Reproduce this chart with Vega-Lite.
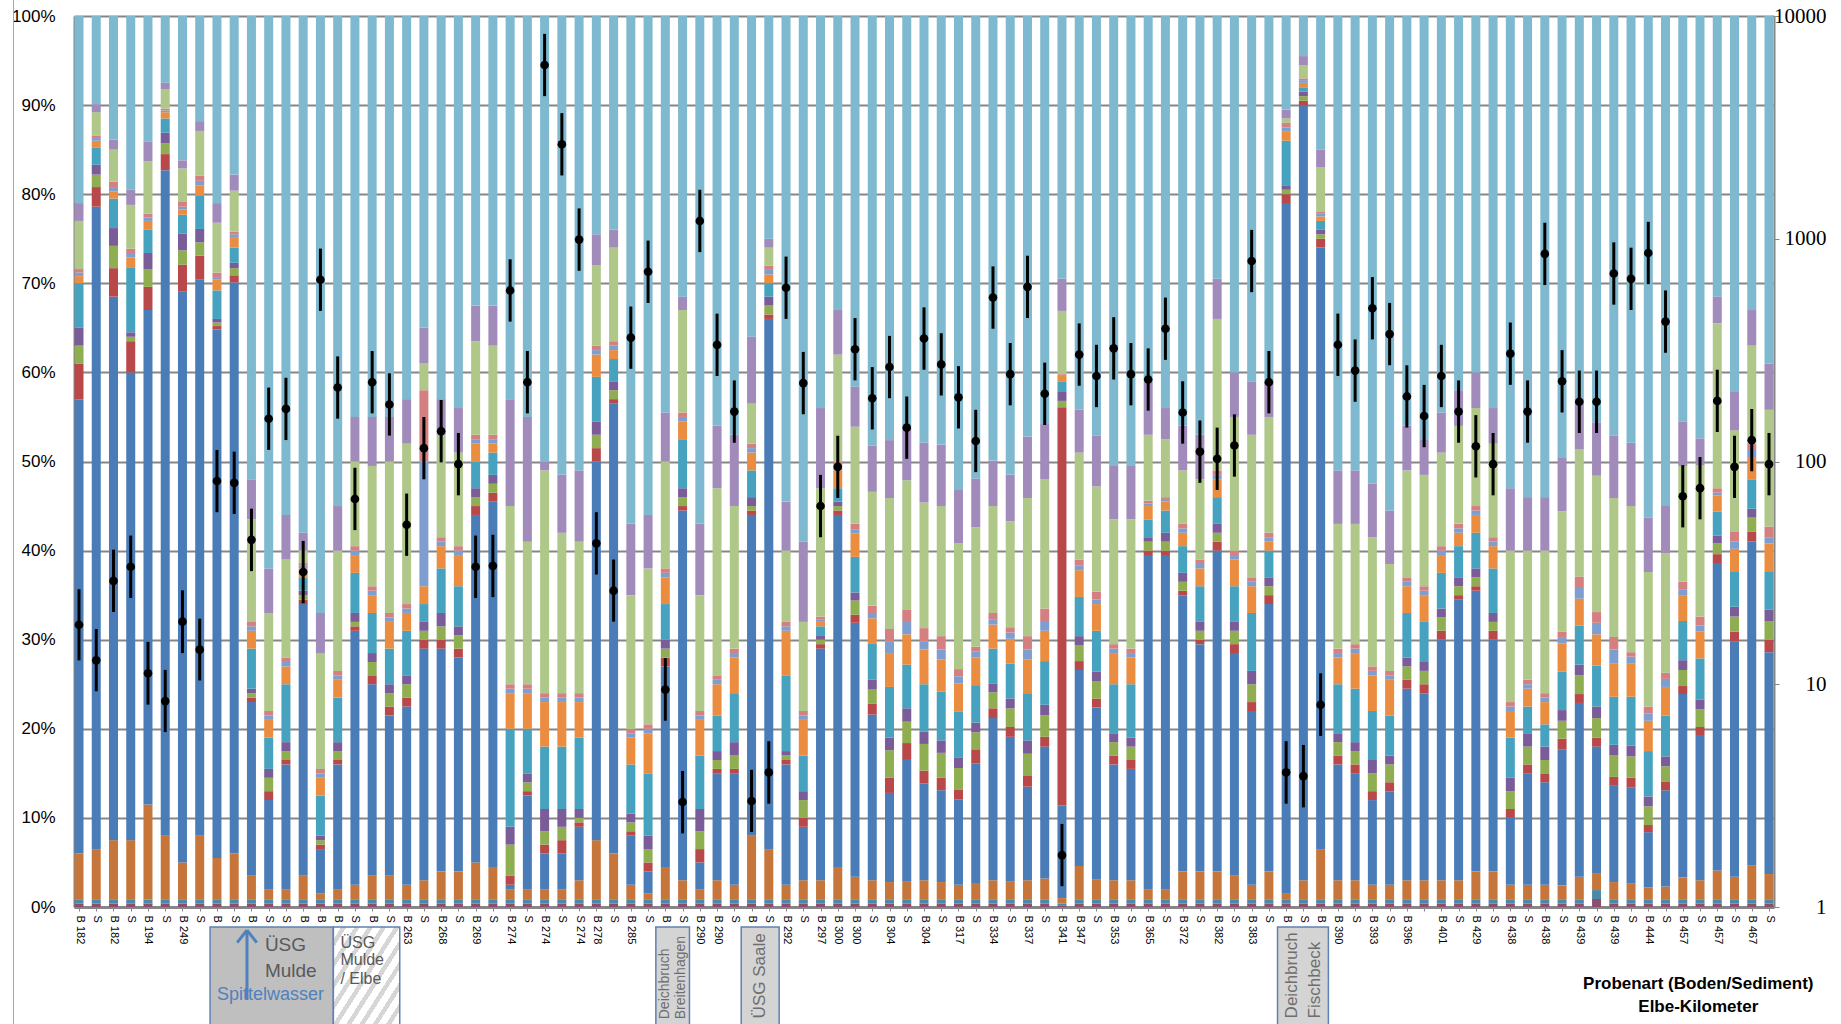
{
"$schema": "https://vega.github.io/schema/vega-lite/v6.json",
"width": 1700, "height": 891,
"autosize": {"type": "none"},
"padding": {"left": 74, "top": 16, "right": 67, "bottom": 117},
"config": {"view": {"stroke": null}, "font": "Liberation Sans", "axis": {"labelOverlap": false, "labelFlush": false, "labelBound": false}},
"datasets": {"bars": [
{"i":1,"s01":0.4,"s02":0.4,"s03":5.2,"s04":51,"s05":4,"s06":2,"s07":2,"s08":5,"s09":0.8,"s10":0.4,"s11":0.4,"s12":5.4,"s13":2,"s14":21,"v":18.5,"lo":12.8,"hi":26.7},
{"i":2,"s01":0.4,"s02":0.4,"s03":5.7,"s04":72.1,"s05":2.2,"s06":1.4,"s07":1.1,"s08":1.9,"s09":0.8,"s10":0.3,"s11":0.3,"s12":2.6,"s13":0.9,"s14":9.9,"v":12.8,"lo":9.3,"hi":17.7},
{"i":3,"s01":0.4,"s02":0.4,"s03":6.7,"s04":61,"s05":3.2,"s06":2.5,"s07":2,"s08":3.3,"s09":0.8,"s10":0.5,"s11":0.6,"s12":3.6,"s13":1.1,"s14":13.9,"v":29.1,"lo":21.1,"hi":40.2},
{"i":4,"s01":0.4,"s02":0.4,"s03":6.7,"s04":52.5,"s05":3.5,"s06":0.5,"s07":0.5,"s08":7.3,"s09":1.1,"s10":0.5,"s11":0.5,"s12":4.9,"s13":1.7,"s14":19.5,"v":33.7,"lo":24.4,"hi":46.5},
{"i":5,"s01":0.4,"s02":0.4,"s03":10.7,"s04":55.5,"s05":2.6,"s06":2,"s07":1.8,"s08":2.6,"s09":1,"s10":0.4,"s11":0.4,"s12":5.9,"s13":2.2,"s14":14.1,"v":11.2,"lo":8.1,"hi":15.5},
{"i":6,"s01":0.4,"s02":0.4,"s03":7.2,"s04":74.7,"s05":1.8,"s06":1.2,"s07":1.2,"s08":1.6,"s09":0.7,"s10":0.2,"s11":0.2,"s12":2.2,"s13":0.7,"s14":7.5,"v":8.4,"lo":6.1,"hi":11.6},
{"i":7,"s01":0.4,"s02":0.4,"s03":4.2,"s04":64.1,"s05":3,"s06":1.6,"s07":1.9,"s08":2.1,"s09":0.6,"s10":0.3,"s11":0.6,"s12":3.7,"s13":0.9,"s14":16.2,"v":19.1,"lo":13.8,"hi":26.4},
{"i":8,"s01":0.4,"s02":0.4,"s03":7.2,"s04":62.4,"s05":2.7,"s06":1.5,"s07":1.5,"s08":3.7,"s09":1.2,"s10":0.5,"s11":0.6,"s12":5,"s13":1.1,"s14":11.8,"v":14.3,"lo":10.4,"hi":19.7},
{"i":9,"s01":0.4,"s02":0.4,"s03":4.7,"s04":59.3,"s05":0.4,"s06":0.4,"s07":0.4,"s08":3.2,"s09":1.2,"s10":0.3,"s11":0.5,"s12":5.6,"s13":2.2,"s14":21,"v":81.7,"lo":59.2,"hi":112.7},
{"i":10,"s01":0.4,"s02":0.4,"s03":5.2,"s04":64.1,"s05":0.8,"s06":0.8,"s07":0.6,"s08":1.7,"s09":1.1,"s10":0.4,"s11":0.3,"s12":4.6,"s13":1.8,"s14":17.8,"v":80.2,"lo":58.1,"hi":110.7},
{"i":11,"s01":0.4,"s02":0.4,"s03":2.7,"s04":19.5,"s05":0.5,"s06":0.5,"s07":0.5,"s08":4.5,"s09":2,"s10":0.5,"s11":0.5,"s12":11.5,"s13":4.5,"s14":52,"v":44.5,"lo":32.2,"hi":61.4},
{"i":12,"s01":0.4,"s02":0.4,"s03":1.2,"s04":10,"s05":1,"s06":1.5,"s07":1,"s08":3.5,"s09":2,"s10":0.5,"s11":0.5,"s12":11,"s13":5,"s14":62,"v":155.6,"lo":112.8,"hi":214.7},
{"i":13,"s01":0.4,"s02":0.4,"s03":1.2,"s04":14,"s05":0.5,"s06":1,"s07":1,"s08":6.5,"s09":2,"s10":0.5,"s11":0.5,"s12":11,"s13":5,"s14":56,"v":172.2,"lo":124.8,"hi":237.6},
{"i":14,"s01":0.4,"s02":0.4,"s03":2.7,"s04":30.5,"s05":0.5,"s06":0.5,"s07":0.5,"s08":1.5,"s09":1,"s10":0.3,"s11":0.3,"s12":1.4,"s13":2,"s14":58,"v":31.9,"lo":23.1,"hi":44},
{"i":15,"s01":0.4,"s02":0.4,"s03":0.7,"s04":5,"s05":0.5,"s06":0.5,"s07":0.5,"s08":4.5,"s09":2,"s10":0.5,"s11":0.5,"s12":13,"s13":4.5,"s14":67,"v":654.6,"lo":474.3,"hi":903.3},
{"i":16,"s01":0.4,"s02":0.4,"s03":1.2,"s04":14,"s05":0.5,"s06":1,"s07":1,"s08":5,"s09":2,"s10":0.5,"s11":0.5,"s12":13.5,"s13":5,"s14":55,"v":214.8,"lo":155.7,"hi":296.4},
{"i":17,"s01":0.4,"s02":0.4,"s03":1.7,"s04":28.5,"s05":0.5,"s06":0.5,"s07":1,"s08":4.5,"s09":2,"s10":0.5,"s11":0.5,"s12":9.5,"s13":5,"s14":45,"v":67.9,"lo":49.2,"hi":93.7},
{"i":18,"s01":0.4,"s02":0.4,"s03":2.7,"s04":21.5,"s05":1,"s06":1.5,"s07":1,"s08":4.5,"s09":2,"s10":0.5,"s11":0.5,"s12":13.5,"s13":5.5,"s14":45,"v":227,"lo":164.5,"hi":313.3},
{"i":19,"s01":0.4,"s02":0.4,"s03":2.7,"s04":18,"s05":1,"s06":1.5,"s07":1,"s08":4,"s09":3,"s10":0.5,"s11":0.5,"s12":17,"s13":5,"s14":45,"v":180.3,"lo":130.7,"hi":248.8},
{"i":20,"s01":0.4,"s02":0.4,"s03":1.7,"s04":20,"s05":1,"s06":1.5,"s07":1,"s08":5,"s09":2,"s10":0.5,"s11":0.5,"s12":18,"s13":5,"s14":43,"v":52,"lo":37.7,"hi":71.8},
{"i":21,"s01":0.4,"s02":0.4,"s03":2.2,"s04":26,"s05":1,"s06":1,"s07":1,"s08":2,"s09":2,"s10":14,"s11":8,"s12":3,"s13":4,"s14":35,"v":114.8,"lo":83.2,"hi":158.4},
{"i":22,"s01":0.4,"s02":0.4,"s03":3.2,"s04":25,"s05":1,"s06":1.5,"s07":1.5,"s08":5,"s09":2.5,"s10":0.5,"s11":0.5,"s12":11.5,"s13":4,"s14":43,"v":136.8,"lo":99.1,"hi":188.8},
{"i":23,"s01":0.4,"s02":0.4,"s03":3.2,"s04":24,"s05":1,"s06":1.5,"s07":1,"s08":4.5,"s09":3.5,"s10":0.5,"s11":0.5,"s12":10.5,"s13":5,"s14":44,"v":97.3,"lo":70.5,"hi":134.3},
{"i":24,"s01":0.4,"s02":0.4,"s03":4.2,"s04":39,"s05":1,"s06":1,"s07":1,"s08":3,"s09":2,"s10":0.5,"s11":0.5,"s12":10.5,"s13":4,"s14":32.5,"v":33.7,"lo":24.4,"hi":46.5},
{"i":25,"s01":0.4,"s02":0.4,"s03":3.7,"s04":41,"s05":1,"s06":1,"s07":1,"s08":2.5,"s09":1,"s10":0.5,"s11":0.5,"s12":10,"s13":4.5,"s14":32.5,"v":34,"lo":24.6,"hi":46.9},
{"i":26,"s01":0.4,"s02":0.4,"s03":1.2,"s04":0.5,"s05":1,"s06":3.5,"s07":2,"s08":11,"s09":4,"s10":0.5,"s11":0.5,"s12":20,"s13":12,"s14":43,"v":586,"lo":424.6,"hi":808.7},
{"i":27,"s01":0.4,"s02":0.4,"s03":1.2,"s04":10.5,"s05":0.5,"s06":1,"s07":1,"s08":5,"s09":4,"s10":0.5,"s11":0.5,"s12":16,"s13":14,"s14":45,"v":227,"lo":164.5,"hi":313.3},
{"i":28,"s01":0.4,"s02":0.4,"s03":1.2,"s04":4,"s05":1,"s06":1.5,"s07":2.5,"s08":7,"s09":5,"s10":0.5,"s11":0.5,"s12":25,"s13":1,"s14":50,"v":6026,"lo":4367,"hi":8316},
{"i":29,"s01":0.4,"s02":0.4,"s03":1.2,"s04":4,"s05":1.5,"s06":1.5,"s07":2,"s08":7,"s09":5,"s10":0.5,"s11":0.5,"s12":18,"s13":6.5,"s14":51.5,"v":2655,"lo":1924,"hi":3664},
{"i":30,"s01":0.4,"s02":0.4,"s03":2.2,"s04":6,"s05":0.5,"s06":0.5,"s07":1,"s08":8,"s09":4,"s10":0.5,"s11":0.5,"s12":17,"s13":8,"s14":51,"v":991,"lo":718,"hi":1368},
{"i":31,"s01":0.4,"s02":0.4,"s03":6.7,"s04":42.5,"s05":1.5,"s06":1.5,"s07":1.5,"s08":5,"s09":2.5,"s10":0.5,"s11":0.5,"s12":9,"s13":3.5,"s14":24.5,"v":42.9,"lo":31.1,"hi":59.2},
{"i":32,"s01":0.4,"s02":0.4,"s03":5.2,"s04":50.5,"s05":0.5,"s06":1,"s07":1,"s08":2.5,"s09":1,"s10":0.5,"s11":0.5,"s12":10.5,"s13":2,"s14":24,"v":26.3,"lo":19.1,"hi":36.3},
{"i":33,"s01":0.4,"s02":0.4,"s03":1.7,"s04":5.5,"s05":0.5,"s06":1,"s07":1,"s08":5.5,"s09":3,"s10":0.5,"s11":0.5,"s12":15,"s13":8,"s14":57,"v":359.7,"lo":260.7,"hi":496.4},
{"i":34,"s01":0.4,"s02":0.4,"s03":0.7,"s04":2.5,"s05":1,"s06":1.5,"s07":1.5,"s08":7,"s09":4.5,"s10":0.5,"s11":0.5,"s12":17.5,"s13":6,"s14":56,"v":711,"lo":515,"hi":981},
{"i":35,"s01":0.4,"s02":0.4,"s03":3.7,"s04":22.5,"s05":1,"s06":1,"s07":1,"s08":4,"s09":3,"s10":0.5,"s11":0.5,"s12":12,"s13":5.5,"s14":44.5,"v":9.46,"lo":6.86,"hi":13.1},
{"i":36,"s01":0.4,"s02":0.4,"s03":2.2,"s04":41.5,"s05":0.5,"s06":1,"s07":1,"s08":5.5,"s09":2,"s10":0.5,"s11":0.5,"s12":11.5,"s13":1.5,"s14":31.5,"v":2.96,"lo":2.14,"hi":4.08},
{"i":37,"s01":0.4,"s02":0.4,"s03":1.2,"s04":3,"s05":1.5,"s06":2,"s07":2.5,"s08":6,"s09":4,"s10":0.5,"s11":0.5,"s12":13,"s13":8,"s14":57,"v":1202,"lo":871,"hi":1659},
{"i":38,"s01":0.4,"s02":0.4,"s03":2.2,"s04":12,"s05":0.5,"s06":1,"s07":1,"s08":4,"s09":3.5,"s10":0.5,"s11":0.5,"s12":21,"s13":7,"s14":46,"v":334,"lo":242,"hi":461},
{"i":39,"s01":0.4,"s02":0.4,"s03":1.7,"s04":12.5,"s05":0.5,"s06":1.5,"s07":1.5,"s08":5.5,"s09":4,"s10":0.5,"s11":0.5,"s12":16,"s13":8,"s14":47,"v":167.5,"lo":121.4,"hi":231.2},
{"i":40,"s01":0.4,"s02":0.4,"s03":7.2,"s04":36,"s05":0.5,"s06":0.5,"s07":1,"s08":3,"s09":2,"s10":0.5,"s11":0.5,"s12":4.5,"s13":7.5,"s14":36,"v":2.99,"lo":2.17,"hi":4.13},
{"i":41,"s01":0.4,"s02":0.4,"s03":5.7,"s04":59.5,"s05":0.5,"s06":1,"s07":1,"s08":1.5,"s09":1,"s10":0.5,"s11":0.5,"s12":2,"s13":1,"s14":25,"v":4.02,"lo":2.91,"hi":5.55},
{"i":42,"s01":0.4,"s02":0.4,"s03":1.7,"s04":13.5,"s05":0.5,"s06":0.5,"s07":0.5,"s08":8.5,"s09":5,"s10":0.5,"s11":0.5,"s12":8,"s13":5.5,"s14":54.5,"v":602.6,"lo":436.7,"hi":831.6},
{"i":43,"s01":0.4,"s02":0.4,"s03":2.2,"s04":6,"s05":1,"s06":2,"s07":1,"s08":4,"s09":4,"s10":0.5,"s11":0.5,"s12":10,"s13":9,"s14":59,"v":224.9,"lo":163,"hi":310.4},
{"i":44,"s01":0.4,"s02":0.4,"s03":2.2,"s04":26,"s05":0.5,"s06":0.5,"s07":0.5,"s08":1,"s09":0.5,"s10":0.3,"s11":0.3,"s12":14.4,"s13":9,"s14":44,"v":63.1,"lo":45.7,"hi":87.1},
{"i":45,"s01":0.4,"s02":0.4,"s03":3.7,"s04":39.5,"s05":0.5,"s06":0.5,"s07":0.5,"s08":1.5,"s09":2,"s10":0.5,"s11":0.5,"s12":12,"s13":5,"s14":33,"v":94.6,"lo":68.6,"hi":130.5},
{"i":46,"s01":0.4,"s02":0.4,"s03":2.6,"s04":28.5,"s05":0.9,"s06":1.6,"s07":0.9,"s08":4,"s09":2.6,"s10":0.5,"s11":0.6,"s12":10.9,"s13":4.5,"s14":41.6,"v":319.2,"lo":231.3,"hi":440.5},
{"i":47,"s01":0.4,"s02":0.4,"s03":2.2,"s04":18.6,"s05":1.2,"s06":1.6,"s07":1.1,"s08":4.1,"s09":2.8,"s10":0.6,"s11":0.8,"s12":12.8,"s13":5.2,"s14":48.2,"v":192.3,"lo":139.3,"hi":265.4},
{"i":48,"s01":0.4,"s02":0.4,"s03":2,"s04":10,"s05":1.7,"s06":3.1,"s07":1.4,"s08":5.7,"s09":3.8,"s10":1.3,"s11":1.4,"s12":14.7,"s13":6.5,"s14":47.6,"v":265.5,"lo":192.4,"hi":366.4},
{"i":49,"s01":0.4,"s02":0.4,"s03":2.1,"s04":13.7,"s05":1.8,"s06":2.4,"s07":1.5,"s08":4.9,"s09":3.4,"s10":1.5,"s11":1.3,"s12":14.5,"s13":5.7,"s14":46.4,"v":141.9,"lo":102.8,"hi":195.8},
{"i":50,"s01":0.4,"s02":0.4,"s03":2.2,"s04":10.9,"s05":1.4,"s06":3,"s07":1.4,"s08":5.3,"s09":3.9,"s10":0.9,"s11":1.5,"s12":14.1,"s13":6.7,"s14":47.9,"v":356.5,"lo":258.3,"hi":492},
{"i":51,"s01":0.4,"s02":0.4,"s03":2,"s04":10.3,"s05":1.4,"s06":2.8,"s07":1.4,"s08":5.5,"s09":3.6,"s10":1.1,"s11":1.5,"s12":14.6,"s13":6.9,"s14":48.1,"v":272.9,"lo":197.8,"hi":376.6},
{"i":52,"s01":0.4,"s02":0.4,"s03":1.7,"s04":9.6,"s05":1.1,"s06":2.4,"s07":1.2,"s08":5.1,"s09":3.2,"s10":0.8,"s11":0.8,"s12":14.1,"s13":6,"s14":53.2,"v":194.1,"lo":140.7,"hi":267.9},
{"i":53,"s01":0.4,"s02":0.4,"s03":1.9,"s04":13.4,"s05":1.6,"s06":1.9,"s07":1.1,"s08":4.2,"s09":3.1,"s10":0.7,"s11":0.5,"s12":13.4,"s13":5.5,"s14":51.9,"v":123.6,"lo":89.6,"hi":170.6},
{"i":54,"s01":0.4,"s02":0.4,"s03":2.2,"s04":18.2,"s05":1.1,"s06":1.8,"s07":1,"s08":3.9,"s09":2.7,"s10":0.6,"s11":0.7,"s12":12,"s13":5.1,"s14":49.9,"v":544.5,"lo":394.6,"hi":751.4},
{"i":55,"s01":0.4,"s02":0.4,"s03":2.1,"s04":16.2,"s05":1.1,"s06":2.1,"s07":1.1,"s08":3.9,"s09":2.8,"s10":0.7,"s11":0.6,"s12":11.9,"s13":5.2,"s14":51.5,"v":246.6,"lo":178.7,"hi":340.3},
{"i":56,"s01":0.4,"s02":0.4,"s03":2.2,"s04":10.5,"s05":1.2,"s06":2.5,"s07":1.5,"s08":5.3,"s09":3.8,"s10":1.1,"s11":1.5,"s12":15.5,"s13":6.9,"s14":47.2,"v":608.1,"lo":440.7,"hi":839.2},
{"i":57,"s01":0.4,"s02":0.4,"s03":2.4,"s04":14.8,"s05":1.1,"s06":2.4,"s07":1.2,"s08":4.9,"s09":3.4,"s10":1.1,"s11":1.4,"s12":14.5,"s13":6.2,"s14":45.8,"v":201.4,"lo":145.9,"hi":277.9},
{"i":58,"s01":0.2,"s02":0.2,"s03":0.6,"s04":10.4,"s05":44.7,"s06":0.7,"s07":1,"s08":1.2,"s09":0.6,"s10":0.1,"s11":0.1,"s12":7.1,"s13":3.6,"s14":29.5,"v":1.71,"lo":1.24,"hi":2.36},
{"i":59,"s01":0.4,"s02":0.4,"s03":3.8,"s04":22,"s05":1,"s06":1.8,"s07":1,"s08":4.4,"s09":3,"s10":0.5,"s11":0.7,"s12":12,"s13":4.8,"s14":44.2,"v":302,"lo":218.8,"hi":416.8},
{"i":60,"s01":0.4,"s02":0.4,"s03":2.3,"s04":19.3,"s05":1,"s06":1.9,"s07":1.1,"s08":4.6,"s09":3,"s10":0.5,"s11":0.9,"s12":11.8,"s13":5.7,"s14":47.1,"v":242.1,"lo":175.4,"hi":334.1},
{"i":61,"s01":0.4,"s02":0.4,"s03":2.2,"s04":13,"s05":1,"s06":1.5,"s07":1,"s08":5.5,"s09":3.5,"s10":0.5,"s11":0.5,"s12":14,"s13":6,"s14":50.5,"v":322.1,"lo":233.4,"hi":444.5},
{"i":62,"s01":0.4,"s02":0.4,"s03":2.2,"s04":12.5,"s05":1,"s06":1.5,"s07":1,"s08":6,"s09":3,"s10":0.5,"s11":0.5,"s12":14.5,"s13":6,"s14":50.5,"v":246.6,"lo":178.7,"hi":340.3},
{"i":63,"s01":0.4,"s02":0.4,"s03":1.2,"s04":37.5,"s05":0.5,"s06":1,"s07":0.5,"s08":2,"s09":1.5,"s10":0.3,"s11":0.3,"s12":7.4,"s13":6,"s14":41,"v":233.3,"lo":169.1,"hi":322},
{"i":64,"s01":0.4,"s02":0.4,"s03":1.2,"s04":37.5,"s05":0.5,"s06":1,"s07":1,"s08":2.5,"s09":1,"s10":0.3,"s11":0.2,"s12":6.5,"s13":3.5,"s14":44,"v":394.5,"lo":285.9,"hi":544.4},
{"i":65,"s01":0.4,"s02":0.4,"s03":3.2,"s04":31,"s05":0.5,"s06":1,"s07":1,"s08":3,"s09":1.5,"s10":0.5,"s11":0.5,"s12":6,"s13":5,"s14":46,"v":166,"lo":120.3,"hi":229.1},
{"i":66,"s01":0.4,"s02":0.4,"s03":3.2,"s04":25.5,"s05":0.5,"s06":1,"s07":1,"s08":4,"s09":2,"s10":0.5,"s11":0.5,"s12":9,"s13":5,"s14":47,"v":110.7,"lo":80.2,"hi":152.8},
{"i":67,"s01":0.4,"s02":0.4,"s03":3.2,"s04":36,"s05":1,"s06":1,"s07":1,"s08":3,"s09":2,"s10":0.5,"s11":0.5,"s12":17,"s13":4.5,"s14":29.5,"v":102.8,"lo":74.5,"hi":141.9},
{"i":68,"s01":0.4,"s02":0.4,"s03":2.7,"s04":25,"s05":1,"s06":1.5,"s07":1,"s08":4,"s09":3,"s10":0.5,"s11":0.5,"s12":15,"s13":5,"s14":40,"v":118,"lo":85.5,"hi":162.8},
{"i":69,"s01":0.4,"s02":0.4,"s03":1.7,"s04":19.5,"s05":1,"s06":2,"s07":1.5,"s08":6.5,"s09":3,"s10":0.5,"s11":0.5,"s12":16,"s13":6,"s14":41,"v":794.3,"lo":575.6,"hi":1096},
{"i":70,"s01":0.4,"s02":0.4,"s03":3.2,"s04":30,"s05":1,"s06":1,"s07":1,"s08":3,"s09":1,"s10":0.5,"s11":0.5,"s12":13,"s13":4,"s14":41,"v":227,"lo":164.5,"hi":313.3},
{"i":71,"s01":0.4,"s02":0.4,"s03":0.7,"s04":77.5,"s05":1,"s06":0.5,"s07":0.5,"s08":5,"s09":1,"s10":0.5,"s11":0.5,"s12":0.5,"s13":1,"s14":10.5,"v":4.02,"lo":2.91,"hi":5.55},
{"i":72,"s01":0.4,"s02":0.4,"s03":2.2,"s04":87,"s05":0.5,"s06":0.5,"s07":0.5,"s08":0.5,"s09":0.5,"s10":0.3,"s11":0.2,"s12":1.5,"s13":1,"s14":4.5,"v":3.87,"lo":2.8,"hi":5.34},
{"i":73,"s01":0.4,"s02":0.4,"s03":5.7,"s04":67.5,"s05":1,"s06":0.5,"s07":0.5,"s08":1,"s09":0.5,"s10":0.3,"s11":0.2,"s12":5,"s13":2,"s14":15,"v":8.09,"lo":5.86,"hi":11.2},
{"i":74,"s01":0.4,"s02":0.4,"s03":2.2,"s04":13,"s05":1,"s06":1.5,"s07":1,"s08":5.5,"s09":3,"s10":0.5,"s11":0.5,"s12":14,"s13":6,"s14":51,"v":334.2,"lo":242.2,"hi":461.2},
{"i":75,"s01":0.4,"s02":0.4,"s03":2.2,"s04":12,"s05":1,"s06":1.5,"s07":1,"s08":6,"s09":4,"s10":0.5,"s11":0.5,"s12":13.5,"s13":6,"s14":51,"v":255.9,"lo":185.4,"hi":353.1},
{"i":76,"s01":0.4,"s02":0.4,"s03":1.7,"s04":9.5,"s05":1,"s06":2,"s07":1.5,"s08":5.5,"s09":4,"s10":0.5,"s11":0.5,"s12":14.5,"s13":6,"s14":52.5,"v":487.5,"lo":353.3,"hi":672.8},
{"i":77,"s01":0.4,"s02":0.4,"s03":1.7,"s04":10.5,"s05":1,"s06":2,"s07":1,"s08":4.5,"s09":4,"s10":0.5,"s11":0.5,"s12":12,"s13":6,"s14":55.5,"v":373.3,"lo":270.5,"hi":515.2},
{"i":78,"s01":0.4,"s02":0.4,"s03":2.2,"s04":21.5,"s05":1,"s06":1.5,"s07":1,"s08":5,"s09":3,"s10":0.5,"s11":0.5,"s12":12,"s13":5,"s14":46,"v":195.9,"lo":142,"hi":270.3},
{"i":79,"s01":0.4,"s02":0.4,"s03":2.2,"s04":21,"s05":1,"s06":1.5,"s07":1,"s08":4.5,"s09":3,"s10":0.5,"s11":0.5,"s12":12.5,"s13":4,"s14":47.5,"v":160,"lo":115.9,"hi":220.8},
{"i":80,"s01":0.4,"s02":0.4,"s03":2.2,"s04":27,"s05":1,"s06":1.5,"s07":1,"s08":4,"s09":2,"s10":0.5,"s11":0.5,"s12":10.5,"s13":4.5,"s14":44.5,"v":242.1,"lo":175.4,"hi":334.1},
{"i":81,"s01":0.4,"s02":0.4,"s03":2.2,"s04":31.5,"s05":0.5,"s06":1,"s07":1,"s08":3.5,"s09":1.5,"s10":0.5,"s11":0.5,"s12":11,"s13":4,"s14":42,"v":167.5,"lo":121.4,"hi":231.2},
{"i":82,"s01":0.4,"s02":0.4,"s03":3.2,"s04":31.5,"s05":0.5,"s06":1,"s07":1,"s08":4,"s09":2,"s10":0.5,"s11":0.5,"s12":11,"s13":4,"s14":40,"v":117,"lo":84.8,"hi":161.5},
{"i":83,"s01":0.4,"s02":0.4,"s03":3.2,"s04":26,"s05":1,"s06":1,"s07":1,"s08":5,"s09":2.5,"s10":0.5,"s11":0.5,"s12":10.5,"s13":4,"s14":44,"v":97.3,"lo":70.5,"hi":134.3},
{"i":84,"s01":0.4,"s02":0.4,"s03":1.7,"s04":7.5,"s05":1,"s06":2,"s07":1.5,"s08":4.5,"s09":3,"s10":0.5,"s11":0.5,"s12":17,"s13":7,"s14":53,"v":304.8,"lo":220.9,"hi":420.6},
{"i":85,"s01":0.4,"s02":0.4,"s03":1.7,"s04":12.5,"s05":1,"s06":2,"s07":1.5,"s08":3,"s09":2,"s10":0.5,"s11":0.5,"s12":14.5,"s13":6,"s14":54,"v":167.5,"lo":121.4,"hi":231.2},
{"i":86,"s01":0.4,"s02":0.4,"s03":1.7,"s04":11.5,"s05":1,"s06":1.5,"s07":1.5,"s08":2.5,"s09":2.5,"s10":0.5,"s11":0.5,"s12":16,"s13":6,"s14":54,"v":855,"lo":619.6,"hi":1180},
{"i":87,"s01":0.4,"s02":0.4,"s03":1.6,"s04":15.3,"s05":1.2,"s06":2,"s07":1.2,"s08":4.3,"s09":3.2,"s10":0.6,"s11":0.7,"s12":13.5,"s13":6,"s14":49.6,"v":229.1,"lo":166,"hi":316.2},
{"i":88,"s01":0.4,"s02":0.4,"s03":2.6,"s04":19.5,"s05":1,"s06":2.1,"s07":1.2,"s08":4.4,"s09":3,"s10":1.2,"s11":1.3,"s12":14.3,"s13":5.7,"s14":42.9,"v":185.4,"lo":134.3,"hi":255.9},
{"i":89,"s01":0.9,"s02":1.0,"s03":1.9,"s04":14.2,"s05":1,"s06":2.2,"s07":1.3,"s08":4.6,"s09":3.5,"s10":1.3,"s11":1.2,"s12":15.3,"s13":6,"s14":45.6,"v":185.4,"lo":134.3,"hi":255.9},
{"i":90,"s01":0.4,"s02":0.4,"s03":2,"s04":10.8,"s05":1,"s06":2.4,"s07":1.2,"s08":5.4,"s09":3.7,"s10":1.6,"s11":1.4,"s12":15.6,"s13":7,"s14":47.1,"v":698.2,"lo":505.9,"hi":963.5},
{"i":91,"s01":0.4,"s02":0.4,"s03":1.8,"s04":10.8,"s05":1.1,"s06":2.4,"s07":1.2,"s08":5.5,"s09":3.7,"s10":0.8,"s11":0.5,"s12":16.4,"s13":7.1,"s14":47.9,"v":660.7,"lo":478.8,"hi":911.8},
{"i":92,"s01":0.4,"s02":0.4,"s03":1.4,"s04":6.2,"s05":0.8,"s06":2.1,"s07":1.1,"s08":5.1,"s09":3.4,"s10":0.8,"s11":0.8,"s12":15.1,"s13":6.1,"s14":56.3,"v":863,"lo":625.4,"hi":1191},
{"i":93,"s01":0.4,"s02":0.4,"s03":1.5,"s04":10.8,"s05":1,"s06":1.7,"s07":1.1,"s08":4.6,"s09":3.2,"s10":0.9,"s11":0.7,"s12":13.4,"s13":5.4,"s14":54.9,"v":424.6,"lo":307.7,"hi":586},
{"i":94,"s01":0.4,"s02":0.4,"s03":2.5,"s04":20.6,"s05":0.9,"s06":1.8,"s07":1.1,"s08":4.4,"s09":2.9,"s10":0.6,"s11":0.9,"s12":13,"s13":5,"s14":45.5,"v":69.8,"lo":50.6,"hi":96.3},
{"i":95,"s01":0.4,"s02":0.4,"s03":2.2,"s04":16.2,"s05":1,"s06":2,"s07":1.1,"s08":4.6,"s09":3,"s10":0.7,"s11":1,"s12":17,"s13":3,"s14":47.4,"v":75.9,"lo":55,"hi":104.7},
{"i":96,"s01":0.4,"s02":0.4,"s03":3.3,"s04":34.5,"s05":1,"s06":1.2,"s07":0.9,"s08":2.7,"s09":1.8,"s10":0.3,"s11":0.5,"s12":18.5,"s13":3,"s14":31.5,"v":187.1,"lo":135.6,"hi":258.2},
{"i":97,"s01":0.4,"s02":0.4,"s03":2.6,"s04":26.4,"s05":1.1,"s06":1.7,"s07":1.1,"s08":3.9,"s09":2.6,"s10":0.8,"s11":1.1,"s12":11.4,"s13":4.3,"s14":42.2,"v":94.6,"lo":68.6,"hi":130.5},
{"i":98,"s01":0.4,"s02":0.4,"s03":3.9,"s04":36.3,"s05":1.1,"s06":1.6,"s07":1,"s08":3.3,"s09":2.4,"s10":1,"s11":0.6,"s12":11,"s13":4,"s14":33,"v":124.7,"lo":90.4,"hi":172.1},
{"i":99,"s01":0.4,"s02":0.4,"s03":2.9,"s04":24.9,"s05":1.4,"s06":2.1,"s07":1.3,"s08":4.2,"s09":3.2,"s10":0.7,"s11":1.2,"s12":13.1,"s13":5.2,"s14":39,"v":97.3,"lo":70.5,"hi":134.3}
]},
"layer": [
{"layer": [
 {"data": {"name": "bars"},
  "transform": [{"fold": ["s01","s02","s03","s04","s05","s06","s07","s08","s09","s10","s11","s12","s13","s14"], "as": ["seg","pct"]}],
  "mark": {"type": "bar", "width": 9, "orient": "vertical", "clip": true},
  "encoding": {
   "x": {"field": "i", "type": "quantitative", "scale": {"domain": [1, 99], "nice": false, "zero": false},
     "axis": {"title": null, "orient": "bottom", "values": [1,2,3,4,5,6,7,8,9,10,11,12,13,14,15,16,17,18,19,20,21,22,23,24,25,26,27,28,29,30,31,32,33,34,35,36,37,38,39,40,41,42,43,44,45,46,47,48,49,50,51,52,53,54,55,56,57,58,59,60,61,62,63,64,65,66,67,68,69,70,71,72,73,74,75,76,77,78,79,80,81,82,83,84,85,86,87,88,89,90,91,92,93,94,95,96,97,98,99],
      "labelExpr": "['B 182','S','B 182','S','B 194','S','B 249','S','B','S','B','S','S','B','B','B','S','B','S','B 263','S','B 268','S','B 269','S','B 274','S','B 274','S','S 274','B 278','S','B 285','S','B','S','B 290','B 290','S','B','S','B 292','S','B 297','B 300','B 300','S','B 304','S','B 304','S','B 317','S','B 334','S','B 337','S','B 341','B 347','S','B 353','S','B 365','S','B 372','S','B 382','S','B 383','S','B','S','B','B 390','S','B 393','S','B 396','','B 401','S','B 429','S','B 438','S','B 438','S','B 439','S','B 439','S','B 444','S','B 457','S','B 457','S','B 467','S'][datum.value - 1]",
      "labelAngle": 90, "labelAlign": "left", "labelBaseline": "middle", "labelFontSize": 11, "labelFont": "Liberation Sans", "labelColor": "#000000", "labelPadding": 4, "labelOverlap": false, "labelFlush": false, "labelBound": false, "labelSeparation": 0,
      "grid": false, "tickSize": 4, "tickColor": "#868686", "domainColor": "#868686", "domainWidth": 3}},
   "y": {"field": "pct", "type": "quantitative", "stack": "zero", "scale": {"domain": [0, 100], "nice": false},
     "axis": {"title": null, "orient": "left", "values": [0,10,20,30,40,50,60,70,80,90,100], "labelExpr": "datum.value + '%'", "labelFontSize": 17, "labelFont": "Liberation Sans", "labelColor": "#000000", "labelPadding": 19, "ticks": false, "grid": true, "gridColor": "#868686", "gridWidth": 2, "domainColor": "#868686", "domainWidth": 2}},
   "color": {"field": "seg", "type": "nominal", "legend": null,
     "scale": {"domain": ["s01","s02","s03","s04","s05","s06","s07","s08","s09","s10","s11","s12","s13","s14"],
      "range": ["#8C4E6E","#4A8AA8","#C6763A","#4A7CB8","#B9484A","#8FAD51","#7A5C99","#46A2BE","#EA8D40","#7F9ED0","#D58080","#AFC88A","#A08BBB","#7EB9CF"]}},
   "order": {"field": "seg", "type": "ordinal", "sort": "ascending"}
  }},
 {"data": {"values": [{}]}, "mark": {"type": "rule", "color": "#A6A6A6", "strokeWidth": 1},
  "encoding": {"x": {"datum": -2.8, "type": "quantitative", "axis": null}, "y": {"datum": 101.8, "type": "quantitative", "axis": null, "scale": {"domain": [0, 100]}}, "y2": {"datum": -14}}},
 {"data": {"values": [{}]}, "mark": {"type": "rect", "fill": "#BFBFBF", "stroke": "#5F80B3", "strokeWidth": 1.5},
  "encoding": {"x": {"datum": 8.6, "type": "quantitative", "axis": null}, "x2": {"datum": 15.75}, "y": {"datum": -2.24, "type": "quantitative", "axis": null, "scale": {"domain": [0, 100]}}, "y2": {"datum": -14}}},
 {"data": {"values": [{}]}, "mark": {"type": "rect", "stroke": "#5F80B3", "strokeWidth": 1.5,
   "fill": {"gradient": "linear", "x1": 0, "y1": 0, "x2": 1, "y2": 1, "stops": [
    {"offset": 0, "color": "#FFFFFF"},{"offset": 0.06, "color": "#FFFFFF"},{"offset": 0.06, "color": "#D6D6D6"},{"offset": 0.1, "color": "#D6D6D6"},
    {"offset": 0.1, "color": "#FFFFFF"},{"offset": 0.16, "color": "#FFFFFF"},{"offset": 0.16, "color": "#D6D6D6"},{"offset": 0.2, "color": "#D6D6D6"},
    {"offset": 0.2, "color": "#FFFFFF"},{"offset": 0.26, "color": "#FFFFFF"},{"offset": 0.26, "color": "#D6D6D6"},{"offset": 0.3, "color": "#D6D6D6"},
    {"offset": 0.3, "color": "#FFFFFF"},{"offset": 0.36, "color": "#FFFFFF"},{"offset": 0.36, "color": "#D6D6D6"},{"offset": 0.4, "color": "#D6D6D6"},
    {"offset": 0.4, "color": "#FFFFFF"},{"offset": 0.46, "color": "#FFFFFF"},{"offset": 0.46, "color": "#D6D6D6"},{"offset": 0.5, "color": "#D6D6D6"},
    {"offset": 0.5, "color": "#FFFFFF"},{"offset": 0.56, "color": "#FFFFFF"},{"offset": 0.56, "color": "#D6D6D6"},{"offset": 0.6, "color": "#D6D6D6"},
    {"offset": 0.6, "color": "#FFFFFF"},{"offset": 0.66, "color": "#FFFFFF"},{"offset": 0.66, "color": "#D6D6D6"},{"offset": 0.7, "color": "#D6D6D6"},
    {"offset": 0.7, "color": "#FFFFFF"},{"offset": 0.76, "color": "#FFFFFF"},{"offset": 0.76, "color": "#D6D6D6"},{"offset": 0.8, "color": "#D6D6D6"},
    {"offset": 0.8, "color": "#FFFFFF"},{"offset": 0.86, "color": "#FFFFFF"},{"offset": 0.86, "color": "#D6D6D6"},{"offset": 0.9, "color": "#D6D6D6"},
    {"offset": 0.9, "color": "#FFFFFF"},{"offset": 0.96, "color": "#FFFFFF"},{"offset": 0.96, "color": "#D6D6D6"},{"offset": 1, "color": "#D6D6D6"}]}},
  "encoding": {"x": {"datum": 15.75, "type": "quantitative", "axis": null}, "x2": {"datum": 19.6}, "y": {"datum": -2.24, "type": "quantitative", "axis": null, "scale": {"domain": [0, 100]}}, "y2": {"datum": -14}}},
 {"data": {"values": [{}]}, "mark": {"type": "rect", "fill": "#D4D4D4", "stroke": "#5F80B3", "strokeWidth": 1.5},
  "encoding": {"x": {"datum": 34.45, "type": "quantitative", "axis": null}, "x2": {"datum": 36.4}, "y": {"datum": -2.24, "type": "quantitative", "axis": null, "scale": {"domain": [0, 100]}}, "y2": {"datum": -14}}},
 {"data": {"values": [{}]}, "mark": {"type": "rect", "fill": "#D4D4D4", "stroke": "#5F80B3", "strokeWidth": 1.5},
  "encoding": {"x": {"datum": 39.4, "type": "quantitative", "axis": null}, "x2": {"datum": 41.6}, "y": {"datum": -2.24, "type": "quantitative", "axis": null, "scale": {"domain": [0, 100]}}, "y2": {"datum": -14}}},
 {"data": {"values": [{}]}, "mark": {"type": "rect", "fill": "#D4D4D4", "stroke": "#5F80B3", "strokeWidth": 1.5},
  "encoding": {"x": {"datum": 70.5, "type": "quantitative", "axis": null}, "x2": {"datum": 73.45}, "y": {"datum": -2.24, "type": "quantitative", "axis": null, "scale": {"domain": [0, 100]}}, "y2": {"datum": -14}}},
 {"data": {"values": [{}]}, "mark": {"type": "rule", "color": "#4F81BD", "strokeWidth": 3},
  "encoding": {"x": {"datum": 10.74, "type": "quantitative", "axis": null}, "y": {"datum": -2.6, "type": "quantitative", "axis": null, "scale": {"domain": [0, 100]}}, "y2": {"datum": -10.4}}},
 {"data": {"values": [{}]}, "mark": {"type": "rule", "color": "#4F81BD", "strokeWidth": 3},
  "encoding": {"x": {"datum": 10.74, "type": "quantitative", "axis": null}, "x2": {"datum": 10.17}, "y": {"datum": -2.6, "type": "quantitative", "axis": null, "scale": {"domain": [0, 100]}}, "y2": {"datum": -4.0}}},
 {"data": {"values": [{}]}, "mark": {"type": "rule", "color": "#4F81BD", "strokeWidth": 3},
  "encoding": {"x": {"datum": 10.74, "type": "quantitative", "axis": null}, "x2": {"datum": 11.31}, "y": {"datum": -2.6, "type": "quantitative", "axis": null, "scale": {"domain": [0, 100]}}, "y2": {"datum": -4.0}}},
 {"data": {"values": [{}]}, "mark": {"type": "text", "text": "ÜSG", "align": "left", "baseline": "middle", "fontSize": 19, "color": "#595959"},
  "encoding": {"x": {"datum": 11.78, "type": "quantitative", "axis": null}, "y": {"datum": -4.3, "type": "quantitative", "axis": null, "scale": {"domain": [0, 100]}}}},
 {"data": {"values": [{}]}, "mark": {"type": "text", "text": "Mulde", "align": "left", "baseline": "middle", "fontSize": 19, "color": "#595959"},
  "encoding": {"x": {"datum": 11.78, "type": "quantitative", "axis": null}, "y": {"datum": -7.2, "type": "quantitative", "axis": null, "scale": {"domain": [0, 100]}}}},
 {"data": {"values": [{}]}, "mark": {"type": "text", "text": "Spittelwasser", "align": "center", "baseline": "middle", "fontSize": 18, "color": "#4F81BD"},
  "encoding": {"x": {"datum": 12.1, "type": "quantitative", "axis": null}, "y": {"datum": -9.9, "type": "quantitative", "axis": null, "scale": {"domain": [0, 100]}}}},
 {"data": {"values": [{}]}, "mark": {"type": "text", "text": "ÜSG", "align": "left", "baseline": "middle", "fontSize": 16, "color": "#595959"},
  "encoding": {"x": {"datum": 16.16, "type": "quantitative", "axis": null}, "y": {"datum": -4.0, "type": "quantitative", "axis": null, "scale": {"domain": [0, 100]}}}},
 {"data": {"values": [{}]}, "mark": {"type": "text", "text": "Mulde", "align": "left", "baseline": "middle", "fontSize": 16, "color": "#595959"},
  "encoding": {"x": {"datum": 16.16, "type": "quantitative", "axis": null}, "y": {"datum": -6.0, "type": "quantitative", "axis": null, "scale": {"domain": [0, 100]}}}},
 {"data": {"values": [{}]}, "mark": {"type": "text", "text": "/ Elbe", "align": "left", "baseline": "middle", "fontSize": 16, "color": "#595959"},
  "encoding": {"x": {"datum": 16.16, "type": "quantitative", "axis": null}, "y": {"datum": -8.1, "type": "quantitative", "axis": null, "scale": {"domain": [0, 100]}}}},
 {"data": {"values": [{}]}, "mark": {"type": "text", "text": "Deichbruch", "angle": 270, "align": "left", "baseline": "middle", "fontSize": 14, "color": "#6E6E6E"},
  "encoding": {"x": {"datum": 35.0, "type": "quantitative", "axis": null}, "y": {"datum": -12.6, "type": "quantitative", "axis": null, "scale": {"domain": [0, 100]}}}},
 {"data": {"values": [{}]}, "mark": {"type": "text", "text": "Breitenhagen", "angle": 270, "align": "left", "baseline": "middle", "fontSize": 14, "color": "#6E6E6E"},
  "encoding": {"x": {"datum": 35.9, "type": "quantitative", "axis": null}, "y": {"datum": -12.6, "type": "quantitative", "axis": null, "scale": {"domain": [0, 100]}}}},
 {"data": {"values": [{}]}, "mark": {"type": "text", "text": "ÜSG Saale", "angle": 270, "align": "left", "baseline": "middle", "fontSize": 17, "color": "#6E6E6E"},
  "encoding": {"x": {"datum": 40.5, "type": "quantitative", "axis": null}, "y": {"datum": -12.5, "type": "quantitative", "axis": null, "scale": {"domain": [0, 100]}}}},
 {"data": {"values": [{}]}, "mark": {"type": "text", "text": "Deichbruch", "angle": 270, "align": "left", "baseline": "middle", "fontSize": 17, "color": "#6E6E6E"},
  "encoding": {"x": {"datum": 71.35, "type": "quantitative", "axis": null}, "y": {"datum": -12.5, "type": "quantitative", "axis": null, "scale": {"domain": [0, 100]}}}},
 {"data": {"values": [{}]}, "mark": {"type": "text", "text": "Fischbeck", "angle": 270, "align": "left", "baseline": "middle", "fontSize": 17, "color": "#6E6E6E"},
  "encoding": {"x": {"datum": 72.65, "type": "quantitative", "axis": null}, "y": {"datum": -12.5, "type": "quantitative", "axis": null, "scale": {"domain": [0, 100]}}}},
 {"data": {"values": [{}]}, "mark": {"type": "text", "text": "Probenart (Boden/Sediment)", "align": "center", "baseline": "middle", "fontSize": 17, "fontWeight": "bold", "color": "#000000"},
  "encoding": {"x": {"datum": 94.9, "type": "quantitative", "axis": null}, "y": {"datum": -8.6, "type": "quantitative", "axis": null, "scale": {"domain": [0, 100]}}}},
 {"data": {"values": [{}]}, "mark": {"type": "text", "text": "Elbe-Kilometer", "align": "center", "baseline": "middle", "fontSize": 17, "fontWeight": "bold", "color": "#000000"},
  "encoding": {"x": {"datum": 94.9, "type": "quantitative", "axis": null}, "y": {"datum": -11.2, "type": "quantitative", "axis": null, "scale": {"domain": [0, 100]}}}}
 ],
 "resolve": {"axis": {"x": "independent", "y": "independent"}}
},
{"data": {"name": "bars"},
 "layer": [
  {"mark": {"type": "rule", "color": "#000000", "strokeWidth": 3},
   "encoding": {"x": {"field": "i", "type": "quantitative", "axis": null},
    "y": {"field": "lo", "type": "quantitative", "scale": {"type": "log", "domain": [1, 10000], "nice": false},
     "axis": {"title": null, "orient": "right", "values": [1, 10, 100, 1000, 10000], "format": "d", "labelFont": "Liberation Serif", "labelFontSize": 21, "labelColor": "#000000", "labelAlign": "right", "labelPadding": 47, "tickSize": 5, "tickColor": "#868686", "domainColor": "#868686", "domainWidth": 2, "grid": false}},
    "y2": {"field": "hi"}}},
  {"mark": {"type": "circle", "color": "#000000", "opacity": 1, "size": 75},
   "encoding": {"x": {"field": "i", "type": "quantitative", "axis": null},
    "y": {"field": "v", "type": "quantitative", "scale": {"type": "log", "domain": [1, 10000], "nice": false}, "axis": null}}}
 ],
 "resolve": {"axis": {"x": "independent", "y": "independent"}}
}
],
"resolve": {"scale": {"y": "independent"}, "axis": {"x": "independent"}}
}
